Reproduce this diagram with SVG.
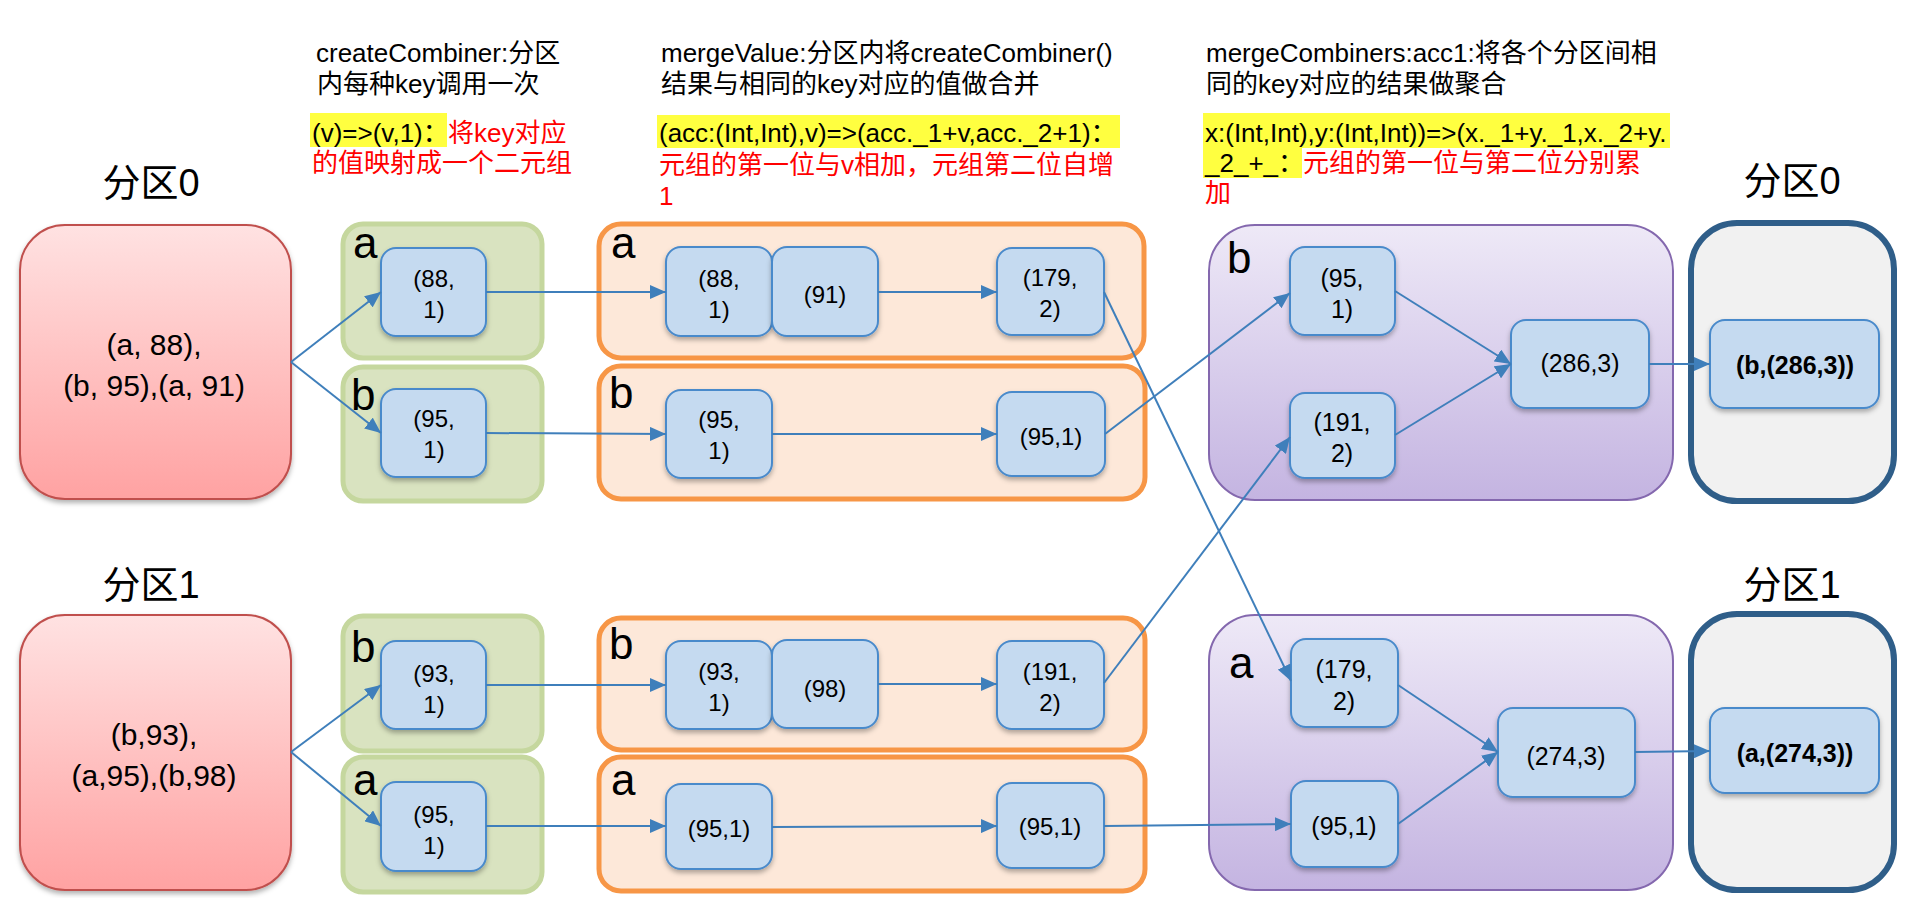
<svg xmlns="http://www.w3.org/2000/svg" width="1907" height="898" viewBox="0 0 1907 898">
<defs>
  <linearGradient id="gPink" x1="0" y1="0" x2="0" y2="1">
    <stop offset="0" stop-color="#FFE2E2"/>
    <stop offset="1" stop-color="#FFA2A2"/>
  </linearGradient>
  <linearGradient id="gPurple" x1="0" y1="0" x2="0" y2="1">
    <stop offset="0" stop-color="#EEE9F7"/>
    <stop offset="1" stop-color="#C4B4E1"/>
  </linearGradient>
  <filter id="sh" x="-20%" y="-20%" width="140%" height="150%">
    <feDropShadow dx="0" dy="3" stdDeviation="2.5" flood-color="#000" flood-opacity="0.3"/>
  </filter>
  <marker id="arr" markerUnits="userSpaceOnUse" markerWidth="16" markerHeight="14" refX="16" refY="7" orient="auto">
    <path d="M0,0 L16,7 L0,14 z" fill="#3F7FBB"/>
  </marker>
  <style>
    text{font-family:"Liberation Sans","Noto Sans CJK SC",sans-serif;fill:#000}
    .title{font-size:38px;text-anchor:middle}
    .note{font-size:26px}
    .red{fill:#FF0000}
    .hl{fill:#FFFF40}
    .pink{fill:url(#gPink);stroke:#C0504D;stroke-width:2;filter:url(#sh)}
    .pt{font-size:30px;text-anchor:middle}
    .green{fill:#D9E3C0;stroke:#C5D79E;stroke-width:5}
    .orange{fill:#FDE8D9;stroke:#F79646;stroke-width:5}
    .purple{fill:url(#gPurple);stroke:#8468AE;stroke-width:2}
    .gray{fill:#F1F1F1;stroke:#2F5E89;stroke-width:6}
    .blue{fill:#C5DAF0;stroke:#4A8ACB;stroke-width:2;filter:url(#sh)}
    .bt{font-size:24px;text-anchor:middle}
    .bt2{font-size:25px;text-anchor:middle}
    .bb{font-size:25px;font-weight:bold;text-anchor:middle}
    .key{font-size:44px}
    .conn line{stroke:#3F7FBB;stroke-width:2;marker-end:url(#arr)}
  </style>
</defs>
<rect width="1907" height="898" fill="#FFFFFF"/>

<!-- annotations -->
<g id="note-create">
  <text class="note" x="316" y="62">createCombiner:分区</text>
  <text class="note" x="317" y="93">内每种key调用一次</text>
  <rect class="hl" x="310" y="113" width="137" height="34"/>
  <text class="note" x="312" y="142">(v)=&gt;(v,1)：</text>
  <text class="note red" x="448" y="142">将key对应</text>
  <text class="note red" x="312" y="172">的值映射成一个二元组</text>
</g>
<g id="note-merge">
  <text class="note" x="661" y="62">mergeValue:分区内将createCombiner()</text>
  <text class="note" x="661" y="93">结果与相同的key对应的值做合并</text>
  <rect class="hl" x="657" y="115" width="463" height="33"/>
  <text class="note" x="659" y="142">(acc:(Int,Int),v)=&gt;(acc._1+v,acc._2+1)：</text>
  <text class="note red" x="659" y="174">元组的第一位与v相加，元组第二位自增</text>
  <text class="note red" x="659" y="205">1</text>
</g>
<g id="note-combiners">
  <text class="note" x="1206" y="62">mergeCombiners:acc1:将各个分区间相</text>
  <text class="note" x="1206" y="93">同的key对应的结果做聚合</text>
  <rect class="hl" x="1203" y="113" width="467" height="35"/>
  <rect class="hl" x="1203" y="147" width="99" height="31"/>
  <text class="note" x="1205" y="142">x:(Int,Int),y:(Int,Int))=&gt;(x._1+y._1,x._2+y.</text>
  <text class="note" x="1205" y="172">_2_+_：</text>
  <text class="note red" x="1303" y="172">元组的第一位与第二位分别累</text>
  <text class="note red" x="1205" y="202">加</text>
</g>

<!-- titles -->
<text class="title" x="151" y="196">分区0</text>
<text class="title" x="151" y="598">分区1</text>
<text class="title" x="1792" y="194">分区0</text>
<text class="title" x="1792" y="598">分区1</text>

<!-- source partitions -->
<g id="p0">
  <rect class="pink" x="20" y="225" width="271" height="274" rx="45"/>
  <text class="pt" x="154" y="355">(a, 88),</text>
  <text class="pt" x="154" y="396">(b, 95),(a, 91)</text>
</g>
<g id="p1">
  <rect class="pink" x="20" y="615" width="271" height="275" rx="45"/>
  <text class="pt" x="154" y="745">(b,93),</text>
  <text class="pt" x="154" y="786">(a,95),(b,98)</text>
</g>

<!-- createCombiner groups -->
<g id="c0a">
  <rect class="green" x="343" y="224" width="199" height="134" rx="20"/>
  <text class="key" x="353" y="258">a</text>
  <rect class="blue" x="381" y="248" width="105" height="88" rx="15"/>
  <text class="bt" x="434" y="287">(88,</text>
  <text class="bt" x="434" y="318">1)</text>
</g>
<g id="c0b">
  <rect class="green" x="343" y="367" width="199" height="134" rx="20"/>
  <text class="key" x="351" y="410">b</text>
  <rect class="blue" x="381" y="389" width="105" height="88" rx="15"/>
  <text class="bt" x="434" y="427">(95,</text>
  <text class="bt" x="434" y="458">1)</text>
</g>
<g id="c1b">
  <rect class="green" x="343" y="616" width="199" height="135" rx="20"/>
  <text class="key" x="351" y="662">b</text>
  <rect class="blue" x="381" y="641" width="105" height="88" rx="15"/>
  <text class="bt" x="434" y="682">(93,</text>
  <text class="bt" x="434" y="713">1)</text>
</g>
<g id="c1a">
  <rect class="green" x="343" y="757" width="199" height="135" rx="20"/>
  <text class="key" x="353" y="795">a</text>
  <rect class="blue" x="381" y="782" width="105" height="89" rx="15"/>
  <text class="bt" x="434" y="823">(95,</text>
  <text class="bt" x="434" y="854">1)</text>
</g>

<!-- mergeValue groups -->
<g id="m0a">
  <rect class="orange" x="599" y="224" width="545" height="134" rx="22"/>
  <text class="key" x="611" y="258">a</text>
  <rect class="blue" x="666" y="247" width="106" height="89" rx="15"/>
  <text class="bt" x="719" y="287">(88,</text>
  <text class="bt" x="719" y="318">1)</text>
  <rect class="blue" x="772" y="247" width="106" height="89" rx="15"/>
  <text class="bt" x="825" y="303">(91)</text>
  <rect class="blue" x="997" y="248" width="107" height="87" rx="15"/>
  <text class="bt" x="1050" y="286">(179,</text>
  <text class="bt" x="1050" y="317">2)</text>
</g>
<g id="m0b">
  <rect class="orange" x="599" y="366" width="546" height="133" rx="22"/>
  <text class="key" x="609" y="408">b</text>
  <rect class="blue" x="666" y="390" width="106" height="88" rx="15"/>
  <text class="bt" x="719" y="428">(95,</text>
  <text class="bt" x="719" y="459">1)</text>
  <rect class="blue" x="997" y="392" width="108" height="84" rx="15"/>
  <text class="bt" x="1051" y="445">(95,1)</text>
</g>
<g id="m1b">
  <rect class="orange" x="599" y="618" width="546" height="132" rx="22"/>
  <text class="key" x="609" y="659">b</text>
  <rect class="blue" x="666" y="641" width="106" height="88" rx="15"/>
  <text class="bt" x="719" y="680">(93,</text>
  <text class="bt" x="719" y="711">1)</text>
  <rect class="blue" x="772" y="640" width="106" height="88" rx="15"/>
  <text class="bt" x="825" y="697">(98)</text>
  <rect class="blue" x="997" y="641" width="107" height="88" rx="15"/>
  <text class="bt" x="1050" y="680">(191,</text>
  <text class="bt" x="1050" y="711">2)</text>
</g>
<g id="m1a">
  <rect class="orange" x="599" y="757" width="546" height="134" rx="22"/>
  <text class="key" x="611" y="795">a</text>
  <rect class="blue" x="666" y="784" width="106" height="85" rx="15"/>
  <text class="bt" x="719" y="837">(95,1)</text>
  <rect class="blue" x="997" y="783" width="107" height="85" rx="15"/>
  <text class="bt" x="1050" y="835">(95,1)</text>
</g>

<!-- mergeCombiners groups -->
<g id="r0">
  <rect class="purple" x="1209" y="225" width="464" height="275" rx="46"/>
  <text class="key" x="1227" y="273">b</text>
  <rect class="blue" x="1290" y="247" width="105" height="88" rx="15"/>
  <text class="bt2" x="1342" y="287">(95,</text>
  <text class="bt2" x="1342" y="318">1)</text>
  <rect class="blue" x="1290" y="393" width="105" height="85" rx="15"/>
  <text class="bt2" x="1342" y="431">(191,</text>
  <text class="bt2" x="1342" y="462">2)</text>
  <rect class="blue" x="1511" y="320" width="138" height="88" rx="15"/>
  <text class="bt2" x="1580" y="372">(286,3)</text>
</g>
<g id="r1">
  <rect class="purple" x="1209" y="615" width="464" height="275" rx="46"/>
  <text class="key" x="1229" y="678">a</text>
  <rect class="blue" x="1291" y="639" width="107" height="88" rx="15"/>
  <text class="bt2" x="1344" y="678">(179,</text>
  <text class="bt2" x="1344" y="710">2)</text>
  <rect class="blue" x="1291" y="781" width="107" height="86" rx="15"/>
  <text class="bt2" x="1344" y="835">(95,1)</text>
  <rect class="blue" x="1498" y="708" width="137" height="89" rx="15"/>
  <text class="bt2" x="1566" y="765">(274,3)</text>
</g>

<!-- output partitions -->
<g id="o0">
  <rect class="gray" x="1691" y="223" width="203" height="278" rx="46"/>
  <rect class="blue" x="1710" y="320" width="169" height="88" rx="15"/>
  <text class="bb" x="1795" y="374">(b,(286,3))</text>
</g>
<g id="o1">
  <rect class="gray" x="1691" y="614" width="203" height="276" rx="46"/>
  <rect class="blue" x="1710" y="708" width="169" height="85" rx="15"/>
  <text class="bb" x="1795" y="762">(a,(274,3))</text>
</g>

<!-- connectors -->
<g id="connectors" class="conn">
  <line x1="291" y1="362" x2="381" y2="292"/>
  <line x1="291" y1="362" x2="381" y2="433"/>
  <line x1="486" y1="292" x2="666" y2="292"/>
  <line x1="878" y1="292" x2="997" y2="292"/>
  <line x1="486" y1="433" x2="666" y2="434"/>
  <line x1="772" y1="434" x2="997" y2="434"/>
  <line x1="1104" y1="292" x2="1291" y2="681"/>
  <line x1="1105" y1="434" x2="1290" y2="293"/>
  <line x1="291" y1="752" x2="381" y2="685"/>
  <line x1="291" y1="752" x2="381" y2="826"/>
  <line x1="486" y1="685" x2="666" y2="685"/>
  <line x1="878" y1="684" x2="997" y2="684"/>
  <line x1="486" y1="826" x2="666" y2="826"/>
  <line x1="772" y1="827" x2="997" y2="826"/>
  <line x1="1104" y1="683" x2="1290" y2="437"/>
  <line x1="1104" y1="826" x2="1291" y2="824"/>
  <line x1="1395" y1="291" x2="1511" y2="364"/>
  <line x1="1395" y1="435" x2="1511" y2="364"/>
  <line x1="1649" y1="364" x2="1710" y2="364"/>
  <line x1="1398" y1="685" x2="1498" y2="752"/>
  <line x1="1398" y1="824" x2="1498" y2="752"/>
  <line x1="1635" y1="752" x2="1710" y2="751"/>
</g>
</svg>
